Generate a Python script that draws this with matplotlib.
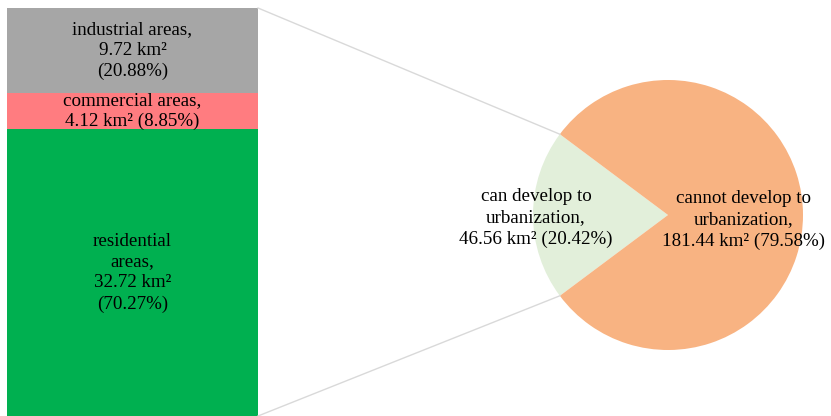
import numpy as np
import matplotlib.pyplot as plt

plt.rcParams["font.family"] = ["Liberation Serif", "DejaVu Serif"]

# Data
pie_labels = ["can develop to\nurbanization,\n46.56 km² (20.42%)",
              "cannot develop to\nurbanization,\n181.44 km² (79.58%)"]
pie_values = [46.56, 181.44]
pie_colors = ["#E2EFDA", "#F8B382"]

bar_labels = ["residential\nareas,\n32.72 km²\n(70.27%)",
              "commercial areas,\n4.12 km² (8.85%)",
              "industrial areas,\n9.72 km²\n(20.88%)"]
bar_values = [32.72, 4.12, 9.72]
bar_colors = ["#00B050", "#FF7C80", "#A6A6A6"]

fs = 13.7
ls = 1.3

fig = plt.figure(figsize=(8.31, 4.16), dpi=100)
ax = fig.add_axes([0, 0, 1, 1])

# stacked bar (scaled to pixel height)
bar_h = 408
scale = bar_h / sum(bar_values)
bx, bw = 132.5, 251
bottom = 0
for lab, v, c in zip(bar_labels, bar_values, bar_colors):
    h = v * scale
    ax.bar(bx, h, bottom=bottom, width=bw, color=c, edgecolor="none")
    ax.text(bx, bottom + h / 2, lab, ha="center", va="center",
            fontsize=fs, linespacing=ls)
    bottom += h

# pie
center = (668, 201)
radius = 135
share = pie_values[0] / sum(pie_values) * 360
start = 180 - share / 2
ax.pie(pie_values, colors=pie_colors, startangle=start, center=center,
       radius=radius, frame=True, wedgeprops={"linewidth": 0})
ax.set_xlim(0, 831)
ax.set_ylim(0, 416)
ax.set_aspect("equal")
ax.axis("off")

ax.text(536, 198, pie_labels[0], ha="center", va="center",
        fontsize=fs, linespacing=ls)
ax.text(744, 196, pie_labels[1], ha="center", va="center",
        fontsize=fs, linespacing=ls)

# connector lines
a1 = np.radians(start)
a2 = np.radians(start + share)
ax.plot([bx + bw / 2, center[0] + radius * np.cos(a1)],
        [bar_h, center[1] + radius * np.sin(a1)], color="#D9D9D9", lw=1)
ax.plot([bx + bw / 2, center[0] + radius * np.cos(a2)],
        [0, center[1] + radius * np.sin(a2)], color="#D9D9D9", lw=1)

fig.savefig("out.png", dpi=100)
